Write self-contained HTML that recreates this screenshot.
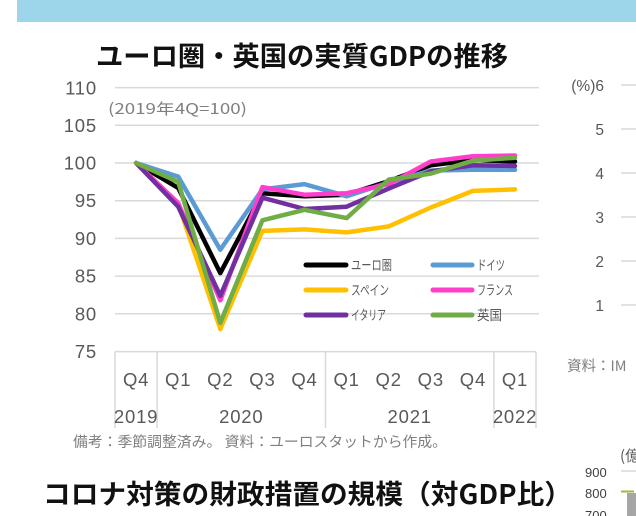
<!DOCTYPE html>
<html><head><meta charset="utf-8"><style>
html,body{margin:0;padding:0;background:#fff;width:636px;height:516px;overflow:hidden}
svg{display:block}
text{font-family:"Liberation Sans","Noto Sans CJK JP",sans-serif}
.jp{font-family:"Noto Sans CJK JP","Liberation Sans",sans-serif}
.tk{font-size:18.5px;fill:#595959;letter-spacing:0.8px}
</style></head><body>
<svg width="636" height="516" viewBox="0 0 636 516" xmlns="http://www.w3.org/2000/svg">
<rect x="17" y="0" width="619" height="22" fill="#9dd5eb"/>
<text class="jp" x="96" y="66" font-size="27" font-weight="700" fill="#111" textLength="412" lengthAdjust="spacingAndGlyphs">ユーロ圏・英国の実質GDPの推移</text>

<g stroke="#d9d9d9" stroke-width="1.5">
<line x1="115" y1="87.6" x2="539" y2="87.6"/>
<line x1="115" y1="125.3" x2="539" y2="125.3"/>
<line x1="115" y1="163" x2="539" y2="163"/>
<line x1="115" y1="200.7" x2="539" y2="200.7"/>
<line x1="115" y1="238.4" x2="539" y2="238.4"/>
<line x1="115" y1="276.1" x2="539" y2="276.1"/>
<line x1="115" y1="313.8" x2="539" y2="313.8"/>
<line x1="115" y1="351.6" x2="536" y2="351.6"/>
<line x1="115" y1="351.6" x2="115" y2="428"/>
<line x1="157.1" y1="351.6" x2="157.1" y2="428"/>
<line x1="325.5" y1="351.6" x2="325.5" y2="428"/>
<line x1="493.9" y1="351.6" x2="493.9" y2="428"/>
<line x1="536" y1="351.6" x2="536" y2="428"/>
</g>

<g class="tk" text-anchor="end">
<text x="97" y="94.5">110</text>
<text x="97" y="132">105</text>
<text x="97" y="169.5">100</text>
<text x="97" y="207">95</text>
<text x="97" y="245">90</text>
<text x="97" y="282.5">85</text>
<text x="97" y="320.5">80</text>
<text x="97" y="358">75</text>
</g>
<text class="jp" x="108" y="114" font-size="15" fill="#7f7f7f" textLength="139" lengthAdjust="spacingAndGlyphs">(2019年4Q=100)</text>

<g class="tk" text-anchor="middle">
<text x="136.1" y="386">Q4</text>
<text x="178.2" y="386">Q1</text>
<text x="220.3" y="386">Q2</text>
<text x="262.4" y="386">Q3</text>
<text x="304.5" y="386">Q4</text>
<text x="346.6" y="386">Q1</text>
<text x="388.7" y="386">Q2</text>
<text x="430.8" y="386">Q3</text>
<text x="472.9" y="386">Q4</text>
<text x="515" y="386">Q1</text>
<text x="136.1" y="423">2019</text>
<text x="241.3" y="423">2020</text>
<text x="409.7" y="423">2021</text>
<text x="515" y="423">2022</text>
</g>

<g fill="none" stroke-width="4.5" stroke-linejoin="round" stroke-linecap="round">
<polyline stroke="#000000" points="136.1,163 178.2,187.9 220.3,273.1 262.4,193.2 304.5,196.2 346.6,194.7 388.7,181.1 430.8,165.3 472.9,160 515,161.5"/>
<polyline stroke="#5b9bd5" points="136.1,163 178.2,176.6 220.3,249.7 262.4,189.4 304.5,184.1 346.6,196.2 388.7,182.6 430.8,170.5 472.9,169.8 515,169.8"/>
<polyline stroke="#ffc000" points="136.1,163 178.2,203.7 220.3,329 262.4,230.9 304.5,229.4 346.6,232.4 388.7,226.4 430.8,207.5 472.9,190.9 515,189.4"/>
<polyline stroke="#ff3fcc" points="136.1,163 178.2,203 220.3,300.3 262.4,187.1 304.5,194.7 346.6,193.2 388.7,184.1 430.8,161.5 472.9,156.2 515,155.5"/>
<polyline stroke="#7030a0" points="136.1,163 178.2,206.7 220.3,295.8 262.4,197.7 304.5,209 346.6,206.7 388.7,188.6 430.8,171.3 472.9,165.3 515,166"/>
<polyline stroke="#70ad47" points="136.1,163 178.2,181.9 220.3,322.9 262.4,220.3 304.5,209.8 346.6,218.1 388.7,179.6 430.8,173.6 472.9,160.7 515,157.7"/>
</g>

<g stroke-width="5" stroke-linecap="round">
<line x1="306" y1="265" x2="346" y2="265" stroke="#000"/>
<line x1="433" y1="265" x2="472" y2="265" stroke="#5b9bd5"/>
<line x1="306" y1="290" x2="346" y2="290" stroke="#ffc000"/>
<line x1="433" y1="290" x2="472" y2="290" stroke="#ff3fcc"/>
<line x1="306" y1="315" x2="346" y2="315" stroke="#7030a0"/>
<line x1="433" y1="315" x2="472" y2="315" stroke="#70ad47"/>
</g>
<g class="jp" font-size="13.5" fill="#595959">
<text x="351" y="270" textLength="41" lengthAdjust="spacingAndGlyphs">ユーロ圏</text>
<text x="477" y="270" textLength="28" lengthAdjust="spacingAndGlyphs">ドイツ</text>
<text x="351" y="295" textLength="38" lengthAdjust="spacingAndGlyphs">スペイン</text>
<text x="477" y="295" textLength="36" lengthAdjust="spacingAndGlyphs">フランス</text>
<text x="351" y="320" textLength="35" lengthAdjust="spacingAndGlyphs">イタリア</text>
<text x="477" y="320" textLength="25" lengthAdjust="spacingAndGlyphs">英国</text>
</g>

<text class="jp" x="73" y="447" font-size="14.5" fill="#7f7f7f" textLength="374" lengthAdjust="spacingAndGlyphs">備考：季節調整済み。 資料：ユーロスタットから作成。</text>

<text class="jp" x="43" y="504" font-size="27" font-weight="700" fill="#111" textLength="529" lengthAdjust="spacingAndGlyphs">コロナ対策の財政措置の規模（対GDP比）</text>

<!-- right partial chart -->
<g stroke="#d9d9d9" stroke-width="1.5">
<line x1="621" y1="85" x2="636" y2="85"/>
<line x1="621" y1="129" x2="636" y2="129"/>
<line x1="621" y1="173" x2="636" y2="173"/>
<line x1="621" y1="217" x2="636" y2="217"/>
<line x1="621" y1="261" x2="636" y2="261"/>
<line x1="621" y1="305" x2="636" y2="305"/>
<line x1="621" y1="471" x2="636" y2="471"/>
</g>
<g font-size="15.5" fill="#595959" text-anchor="end">
<text x="604" y="91">(%)6</text>
<text x="604" y="135">5</text>
<text x="604" y="179">4</text>
<text x="604" y="223">3</text>
<text x="604" y="267">2</text>
<text x="604" y="311">1</text>
</g>
<text class="jp" x="567" y="371" font-size="14.5" fill="#7f7f7f">資料：IM</text>
<text class="jp" x="620" y="461" font-size="15" fill="#595959">(億</text>
<g font-size="13" fill="#404040">
<text x="585" y="477">900</text>
<text x="585" y="498">800</text>
<text x="585" y="520">700</text>
</g>
<line x1="621" y1="491.5" x2="634" y2="491.5" stroke="#9bbb3c" stroke-width="2"/>
<rect x="627" y="493" width="9" height="23" fill="#a6a6a6"/>
</svg>
</body></html>
